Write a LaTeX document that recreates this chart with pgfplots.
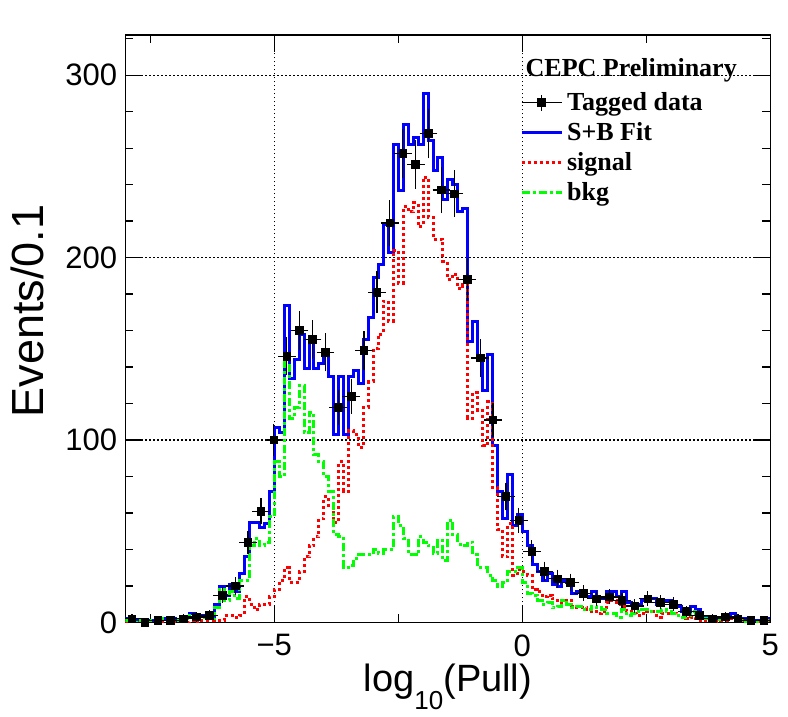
\documentclass[border=0pt]{standalone}
\usepackage{fontspec}
\setmainfont{Liberation Sans}
\newfontfamily\serif{Liberation Serif}
\usepackage{pgfplots}
\usepackage{pgfplotstable}
\pgfplotsset{compat=1.18}

\pgfplotstableread{
x blue red green
-8.0 2 0 1
-7.9 1 0 1
-7.8 1 0 0
-7.7 1 0 1
-7.6 1 0 1
-7.5 1 0 0
-7.4 2 0 1
-7.3 2 0 2
-7.2 2 0 1
-7.1 2 0 1
-7.0 1 0 1
-6.9 2 1 1
-6.8 3 0 2
-6.7 5 1 4
-6.6 4 0 4
-6.5 4 1 3
-6.4 4 1 3
-6.3 3 1 2
-6.2 10 1 8
-6.1 20 1 18
-6.0 15 4 12
-5.9 21 4 17
-5.8 17 3 13
-5.7 27 4 23
-5.6 36 14 23
-5.5 55 10 42
-5.4 55 7 46
-5.3 52 10 42
-5.2 54 10 44
-5.1 72 14 58
-5.0 107 18 88
-4.9 104 23 80
-4.8 174 30 144
-4.7 134 22 112
-4.6 144 22 118
-4.5 158 28 130
-4.4 139 36 104
-4.3 157 42 115
-4.2 139 47 92
-4.1 142 57 88
-4.0 149 69 80
-3.9 135 64 72
-3.8 103 55 48
-3.7 135 88 47
-3.6 103 72 30
-3.5 135 105 31
-3.4 138 103 35
-3.3 131 96 37
-3.2 155 118 37
-3.1 167 132 37
-3.0 189 150 40
-2.9 196 158 38
-2.8 218 176 40
-2.7 203 165 40
-2.6 262 204 58
-2.5 237 186 53
-2.4 273 228 46
-2.3 262 225 37
-2.2 266 230 37
-2.1 262 217 47
-2.0 290 244 44
-1.9 264 222 42
-1.8 248 210 38
-1.7 255 210 45
-1.6 232 198 34
-1.5 243 188 56
-1.4 240 191 48
-1.3 225 183 43
-1.2 227 185 42
-1.1 154 112 44
-1.0 165 126 37
-0.9 146 116 30
-0.8 127 97 30
-0.7 147 121 26
-0.6 97 74 23
-0.5 72 51 20
-0.4 57 36 22
-0.3 81 54 28
-0.2 53 26 28
-0.1 59 29 30
0.0 50 28 22
0.1 42 26 16
0.2 32 18 15
0.3 28 17 12
0.4 23 14 10
0.5 27 15 11
0.6 21 13 8
0.7 20 12 9
0.8 23 11 12
0.9 22 12 10
1.0 16 9 8
1.1 17 8 9
1.2 15 8 7
1.3 14 7 7
1.4 17 6 9
1.5 13 5 8
1.6 13 6 7
1.7 17 11 5
1.8 17 12 5
1.9 14 10 3
2.0 17 9 7
2.1 11 6 4
2.2 10 5 5
2.3 10 4 6
2.4 12 5 7
2.5 13 6 7
2.6 13 6 6
2.7 10 3 6
2.8 12 5 7
2.9 12 5 6
3.0 10 5 5
3.1 9 4 4
3.2 6 3 3
3.3 6 2 4
3.4 9 3 6
3.5 7 2 5
3.6 3 1 2
3.7 3 1 2
3.8 2 0.5 1.5
3.9 2 0.5 1.5
4.0 3 1 2
4.1 4 1 3
4.2 5 2 3
4.3 3 1 2
4.4 2 1 1
4.5 1 0.5 0.5
4.6 1 0.5 0.5
4.7 1 0.5 0.5
4.8 1 0.5 0.5
4.9 2 1 1
5.0 2 1 1
}\fittable

\pgfplotstableread{
x y ex ey
-7.87 2 0.13 1.1
-7.61 0 0.13 0
-7.35 1 0.13 0.8
-7.09 1 0.13 0.8
-6.83 2 0.13 1.1
-6.57 3 0.13 1.3
-6.31 4 0.13 1.5
-6.05 15 0.13 2.9
-5.79 20 0.13 3.4
-5.53 44 0.13 5.0
-5.27 61 0.13 5.9
-5.01 100 0.13 7.5
-4.75 146 0.13 9.0
-4.49 160 0.13 9.5
-4.23 155 0.13 9.3
-3.97 148 0.13 9.1
-3.71 118 0.13 8.2
-3.45 124 0.13 8.4
-3.19 149 0.13 9.2
-2.93 181 0.13 10.1
-2.67 219 0.13 11.1
-2.41 257 0.13 12.0
-2.15 251 0.13 11.9
-1.89 268 0.13 12.3
-1.63 237 0.13 11.5
-1.37 235 0.13 11.5
-1.11 188 0.13 10.3
-0.85 145 0.13 9.0
-0.59 111 0.13 7.9
-0.33 69 0.13 6.2
-0.07 56 0.13 5.6
0.19 39 0.13 4.7
0.45 28 0.13 4.0
0.71 24 0.13 3.7
0.97 22 0.13 3.5
1.23 16 0.13 3.0
1.49 13 0.13 2.7
1.75 14 0.13 2.8
2.01 12 0.13 2.6
2.27 9 0.13 2.3
2.53 13 0.13 2.7
2.79 11 0.13 2.5
3.05 10 0.13 2.4
3.31 6 0.13 1.8
3.57 4 0.13 1.5
3.83 2 0.13 1.1
4.09 3 0.13 1.3
4.35 2 0.13 1.1
4.61 1 0.13 0.8
4.87 1 0.13 0.8
}\datatable

\definecolor{rblue}{RGB}{0,0,255}
\definecolor{rred}{RGB}{255,0,0}
\definecolor{rgreen}{RGB}{0,255,0}

\begin{document}
\begin{tikzpicture}
\begin{axis}[
  width=322.4pt, height=293.75pt, scale only axis,
  xmin=-8, xmax=5, ymin=0, ymax=322,
  xtick={-5,0,5}, xticklabels={−5,0,5},
  minor xtick={-7.5,-2.5,2.5},
  ytick={0,100,200,300}, yticklabels={0,100,200,300},
  minor ytick={20,40,60,80,120,140,160,180,220,240,260,280,320},
  tick align=inside, tick pos=both,
  major tick length=8.5pt, minor tick length=4pt,
  every tick/.style={black, line width=0.6pt},
  axis line style={line width=0.75pt},
  grid=major,
  major grid style={black, line width=0.6pt, dash pattern=on 0.6pt off 1.4pt},
  ticklabel style={font=\fontsize{15.5}{18}\selectfont},
  yticklabel style={inner sep=0pt, xshift=-4pt},
  xticklabel style={inner sep=0pt, yshift=-5.75pt},
  xlabel={log\raisebox{-9pt}{\fontsize{13}{13}\selectfont 10}(Pull)},
  xlabel style={font=\fontsize{19}{22}\selectfont, at={(axis description cs:0.5,-0.1175)}, anchor=base, inner sep=0pt},
  ylabel={Events/0.1},
  ylabel style={font=\fontsize{22.5}{26}\selectfont, at={(axis description cs:-0.1275,0.53)}, anchor=base, inner sep=0pt},
  legend style={at={(axis description cs:0.612,0.903)}, anchor=north west, draw=none, fill=none,
    inner sep=0pt, outer sep=0pt, row sep=4.5pt,
    font=\serif\bfseries\fontsize{13}{13}\selectfont,
    nodes={inner ysep=0pt}},
  legend cell align=left,
]
\addplot[const plot, rblue, line width=1.5pt, forget plot] table[x=x, y=blue] {\fittable};
\addplot[const plot, rred, line width=1.5pt, dash pattern=on 1.5pt off 1.5pt, forget plot] table[x=x, y=red] {\fittable};
\addplot[const plot, rgreen, line width=1.5pt, dash pattern=on 4pt off 1.5pt on 1.5pt off 1.5pt, forget plot] table[x=x, y=green] {\fittable};
\addplot[black, only marks, mark=square*, mark size=1.9pt, forget plot,
  error bars/.cd, x dir=both, x explicit, y dir=both, y explicit,
  error mark=-, error mark options={mark size=1.2pt, line width=0.6pt},
  error bar style={line width=0.6pt}]
  table[x=x, y=y, x error=ex, y error=ey] {\datatable};

\addlegendimage{legend image code/.code={
  \draw[black, line width=0.6pt] (0pt,0pt) -- (20pt,0pt);
  \draw[black, line width=0.6pt] (10pt,-4pt) -- (10pt,4pt);
  \fill[black] (8.1pt,-1.9pt) rectangle (11.9pt,1.9pt);}}
\addlegendentry{Tagged data}
\addlegendimage{legend image code/.code={\draw[rblue, line width=1.5pt] (0pt,0pt) -- (20pt,0pt);}}
\addlegendentry{S+B Fit\vphantom{g}}
\addlegendimage{legend image code/.code={\draw[rred, line width=1.5pt, dash pattern=on 1.5pt off 1.5pt] (0pt,0pt) -- (20pt,0pt);}}
\addlegendentry{signal}
\addlegendimage{legend image code/.code={\draw[rgreen, line width=1.5pt, dash pattern=on 4pt off 1.5pt on 1.5pt off 1.5pt] (0pt,0pt) -- (20pt,0pt);}}
\addlegendentry{bkg}

\node[anchor=base west, inner sep=0pt, font=\serif\bfseries\fontsize{13}{13}\selectfont] at (axis description cs:0.620,0.930) {CEPC Preliminary};
\coordinate (bl) at (rel axis cs:0,0);
\coordinate (tr) at (rel axis cs:1,1);
\end{axis}
\pgfresetboundingbox
\path ([shift={(-62.75pt,-47.25pt)}]bl) rectangle ([shift={(8.85pt,17.5pt)}]tr);
\end{tikzpicture}
\end{document}
